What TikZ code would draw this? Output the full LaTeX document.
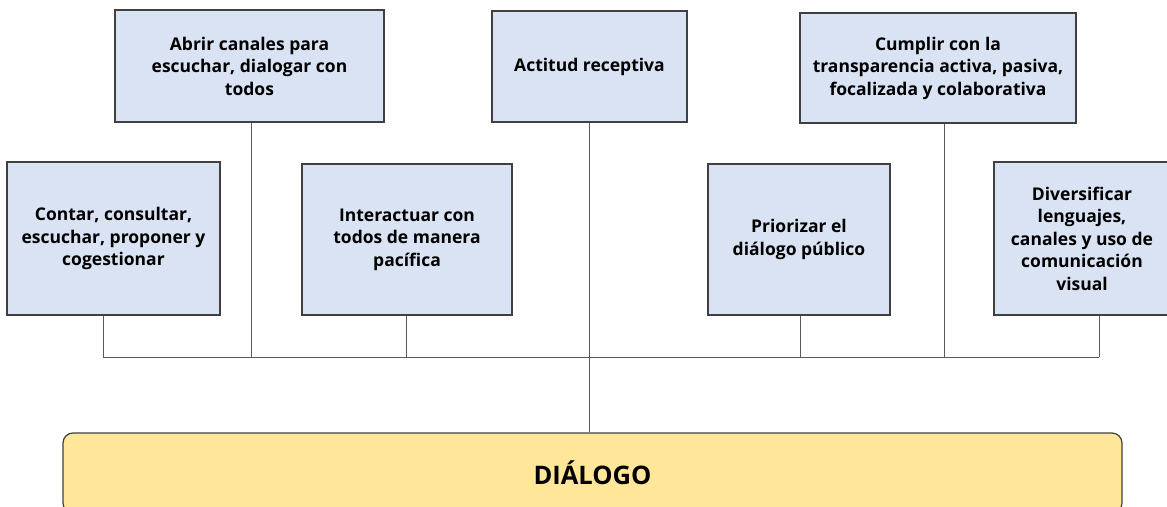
\documentclass[tikz,border=0pt]{standalone}
\usepackage{fontspec}
\setmainfont{Open Sans}
\definecolor{boxblue}{HTML}{DAE3F3}
\definecolor{boxyellow}{HTML}{FFE699}
\definecolor{edge}{HTML}{404040}
\begin{document}
\begin{tikzpicture}[x=1pt,y=-1pt,
		idea/.style={draw=edge,line width=1.2pt,fill=boxblue,align=center,inner sep=0pt,
			font=\fontsize{17.5}{22.5}\selectfont\bfseries},
		link/.style={draw=black!65,line width=0.9pt}]
			\useasboundingbox (0,0) rectangle (1167,506); \clip (0,0) rectangle (1167,506);
			
			\node[idea,minimum width=213,minimum height=153] (contar) at (113.5,238.5) {Contar, consultar,\\escuchar, proponer y\\cogestionar};
			\node[idea,minimum width=269,minimum height=112] (abrir) at (249.5,66) {Abrir canales para\\escuchar, dialogar con\\todos};
			\node[idea,minimum width=210,minimum height=151] (interactuar) at (407,239.5) {Interactuar con\\todos de manera\\pac\'ifica};
			\node[idea,minimum width=195,minimum height=111] (actitud) at (589.5,66.5) {Actitud receptiva};
			\node[idea,minimum width=182,minimum height=151] (priorizar) at (799,239.5) {Priorizar el\\di\'alogo p\'ublico};
			\node[idea,minimum width=276,minimum height=110] (cumplir) at (938,68) {Cumplir con la\\transparencia activa, pasiva,\\focalizada y colaborativa};
			\node[idea,minimum width=176,minimum height=153] (diversificar) at (1082,238.5) {Diversificar\\lenguajes,\\canales y uso de\\comunicaci\'on\\visual};
			
			\node[draw=edge,line width=1.2pt,fill=boxyellow,rounded corners=10pt,minimum width=1059,minimum height=80,
				font=\fontsize{25.5}{30}\selectfont\bfseries] (dialogo) at (592.5,473) {DI\'ALOGO};
			
			\coordinate (j1) at (103,357); \coordinate (j2) at (251,357); \coordinate (j3) at (406,357);
			\coordinate (j5) at (800,357); \coordinate (j6) at (944,357); \coordinate (j7) at (1099,357);
			
			\draw[link] (j1) -- (j7);
			\draw[link] (j1 |- contar.south) -- (j1);
			\draw[link] (j2 |- abrir.south) -- (j2);
			\draw[link] (j3 |- interactuar.south) -- (j3);
			\draw[link] (j5 |- priorizar.south) -- (j5);
			\draw[link] (j6 |- cumplir.south) -- (j6);
			\draw[link] (j7 |- diversificar.south) -- (j7);
			\draw[link] (actitud.south) -- (actitud.south |- dialogo.north);
\end{tikzpicture}
\end{document}
